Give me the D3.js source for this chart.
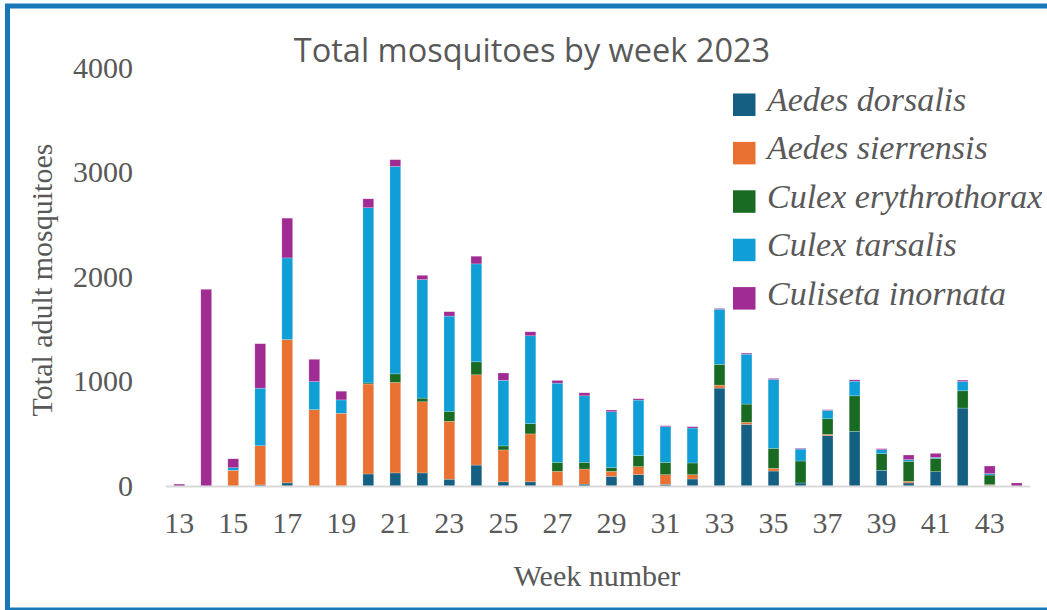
<!DOCTYPE html>
<html>
<head>
<meta charset="utf-8">
<script src="https://cdn.jsdelivr.net/npm/d3@7"></script>
<style>
  html, body { margin: 0; padding: 0; background: #fff; }
  svg { display: block; }
</style>
</head>
<body>
<svg id="chart" width="1047" height="610"></svg>
<script>
// Weekly trap counts, 2023
const weeks = d3.range(13, 45);
const species = ["Aedes dorsalis", "Aedes sierrensis", "Culex erythrothorax", "Culex tarsalis", "Culiseta inornata"];
const aedesDorsalis = [0, 0, 0, 10, 30, 0, 0, 115, 125, 125, 65, 200, 40, 40, 0, 18, 92, 108, 16, 67, 936, 589, 143, 29, 481, 522, 150, 29, 137, 745, 6, 0];
const aedesSierrensis = [0, 0, 150, 375, 1370, 730, 695, 860, 865, 680, 553, 863, 305, 458, 140, 144, 48, 77, 92, 41, 28, 19, 26, 0, 12, 0, 0, 16, 0, 0, 7, 0];
const culexErythrothorax = [0, 0, 0, 0, 0, 0, 0, 10, 82, 35, 96, 124, 38, 98, 86, 64, 35, 105, 118, 112, 198, 175, 191, 210, 150, 340, 159, 191, 127, 165, 92, 0];
const culexTarsalis = [0, 0, 25, 550, 780, 268, 128, 1675, 1983, 1133, 910, 936, 627, 840, 757, 636, 535, 531, 341, 334, 528, 477, 658, 114, 80, 140, 38, 16, 10, 89, 13, 0];
const culisetaInornata = [18, 1880, 85, 425, 380, 213, 83, 85, 64, 41, 42, 73, 70, 38, 26, 29, 16, 13, 9, 13, 7, 10, 10, 7, 6, 13, 10, 44, 38, 13, 73, 29];
const yTicks = [0, 1000, 2000, 3000, 4000];
const xTickLabels = d3.range(13, 44, 2);
const colors = ["#156082", "#e97132", "#196b24", "#0f9ed5", "#a02b93"];

const seriesValues = [aedesDorsalis, aedesSierrensis, culexErythrothorax, culexTarsalis, culisetaInornata];
const rows = weeks.map((w, i) => {
  const r = { week: w };
  species.forEach((s, k) => { r[s] = seriesValues[k][i]; });
  return r;
});

const svg = d3.select("#chart");
const textColor = "#595959";
const serif = "'Liberation Serif', 'Times New Roman', serif";

// Scales
const x = d3.scaleBand().domain(weeks).range([165.7, 1030.2]).paddingInner(0.6).paddingOuter(0.3);
const y = d3.scaleLinear().domain([0, 4000]).range([486, 67.5]);
const color = d3.scaleOrdinal().domain(species).range(colors);

// Stacked bars
const stacked = d3.stack().keys(species)(rows);
svg.append("g").selectAll("g")
  .data(stacked)
  .join("g")
  .attr("fill", d => color(d.key))
  .selectAll("rect")
  .data(d => d)
  .join("rect")
  .attr("x", d => x(d.data.week))
  .attr("width", x.bandwidth())
  .attr("y", d => y(d[1]))
  .attr("height", d => Math.max(0, y(d[0]) - y(d[1])))
  .attr("stroke", "#ffffff")
  .attr("stroke-opacity", 0.35)
  .attr("stroke-width", 0.6);

// Baseline
svg.append("line")
  .attr("x1", 165.7).attr("x2", 1030.2)
  .attr("y1", y(0) + 0.5).attr("y2", y(0) + 0.5)
  .attr("stroke", "#d9d9d9").attr("stroke-width", 2);

// Y axis labels
const yAxis = d3.axisLeft(y).tickValues(yTicks).tickSize(0).tickPadding(0).tickFormat(d3.format("d"));
svg.append("g")
  .attr("transform", "translate(133,0)")
  .call(yAxis)
  .call(g => g.select(".domain").remove())
  .selectAll("text")
  .attr("font-family", serif).attr("font-size", 30).attr("fill", textColor);

// X axis labels
const xAxis = d3.axisBottom(x).tickValues(xTickLabels).tickSize(0).tickPadding(0);
svg.append("g")
  .attr("transform", "translate(0,512)")
  .call(xAxis)
  .call(g => g.select(".domain").remove())
  .selectAll("text")
  .attr("font-family", serif).attr("font-size", 30).attr("fill", textColor);

// Titles
svg.append("text")
  .attr("x", 532).attr("y", 62)
  .attr("text-anchor", "middle")
  .attr("font-family", "'Open Sans', 'Noto Sans', sans-serif")
  .attr("font-size", 32.5)
  .attr("fill", textColor)
  .text("Total mosquitoes by week 2023");

svg.append("text")
  .attr("transform", "translate(52,280) rotate(-90)")
  .attr("text-anchor", "middle")
  .attr("font-family", serif).attr("font-size", 30).attr("fill", textColor)
  .text("Total adult mosquitoes");

svg.append("text")
  .attr("x", 597).attr("y", 586)
  .attr("text-anchor", "middle")
  .attr("font-family", serif).attr("font-size", 30).attr("fill", textColor)
  .text("Week number");

// Legend
const legend = svg.append("g").selectAll("g")
  .data(species)
  .join("g")
  .attr("transform", (d, i) => `translate(733,${93.5 + i * 48.4})`);
legend.append("rect")
  .attr("width", 22.5).attr("height", 22.5)
  .attr("fill", d => color(d));
legend.append("text")
  .attr("x", 34).attr("y", 17.5)
  .attr("font-family", serif).attr("font-style", "italic")
  .attr("font-size", 34).attr("fill", textColor)
  .text(d => d);

// Frame
svg.append("rect")
  .attr("x", 7.5).attr("y", 6)
  .attr("width", 1100).attr("height", 604)
  .attr("fill", "none")
  .attr("stroke", "#1a78b8").attr("stroke-width", 5);
</script>
</body>
</html>
